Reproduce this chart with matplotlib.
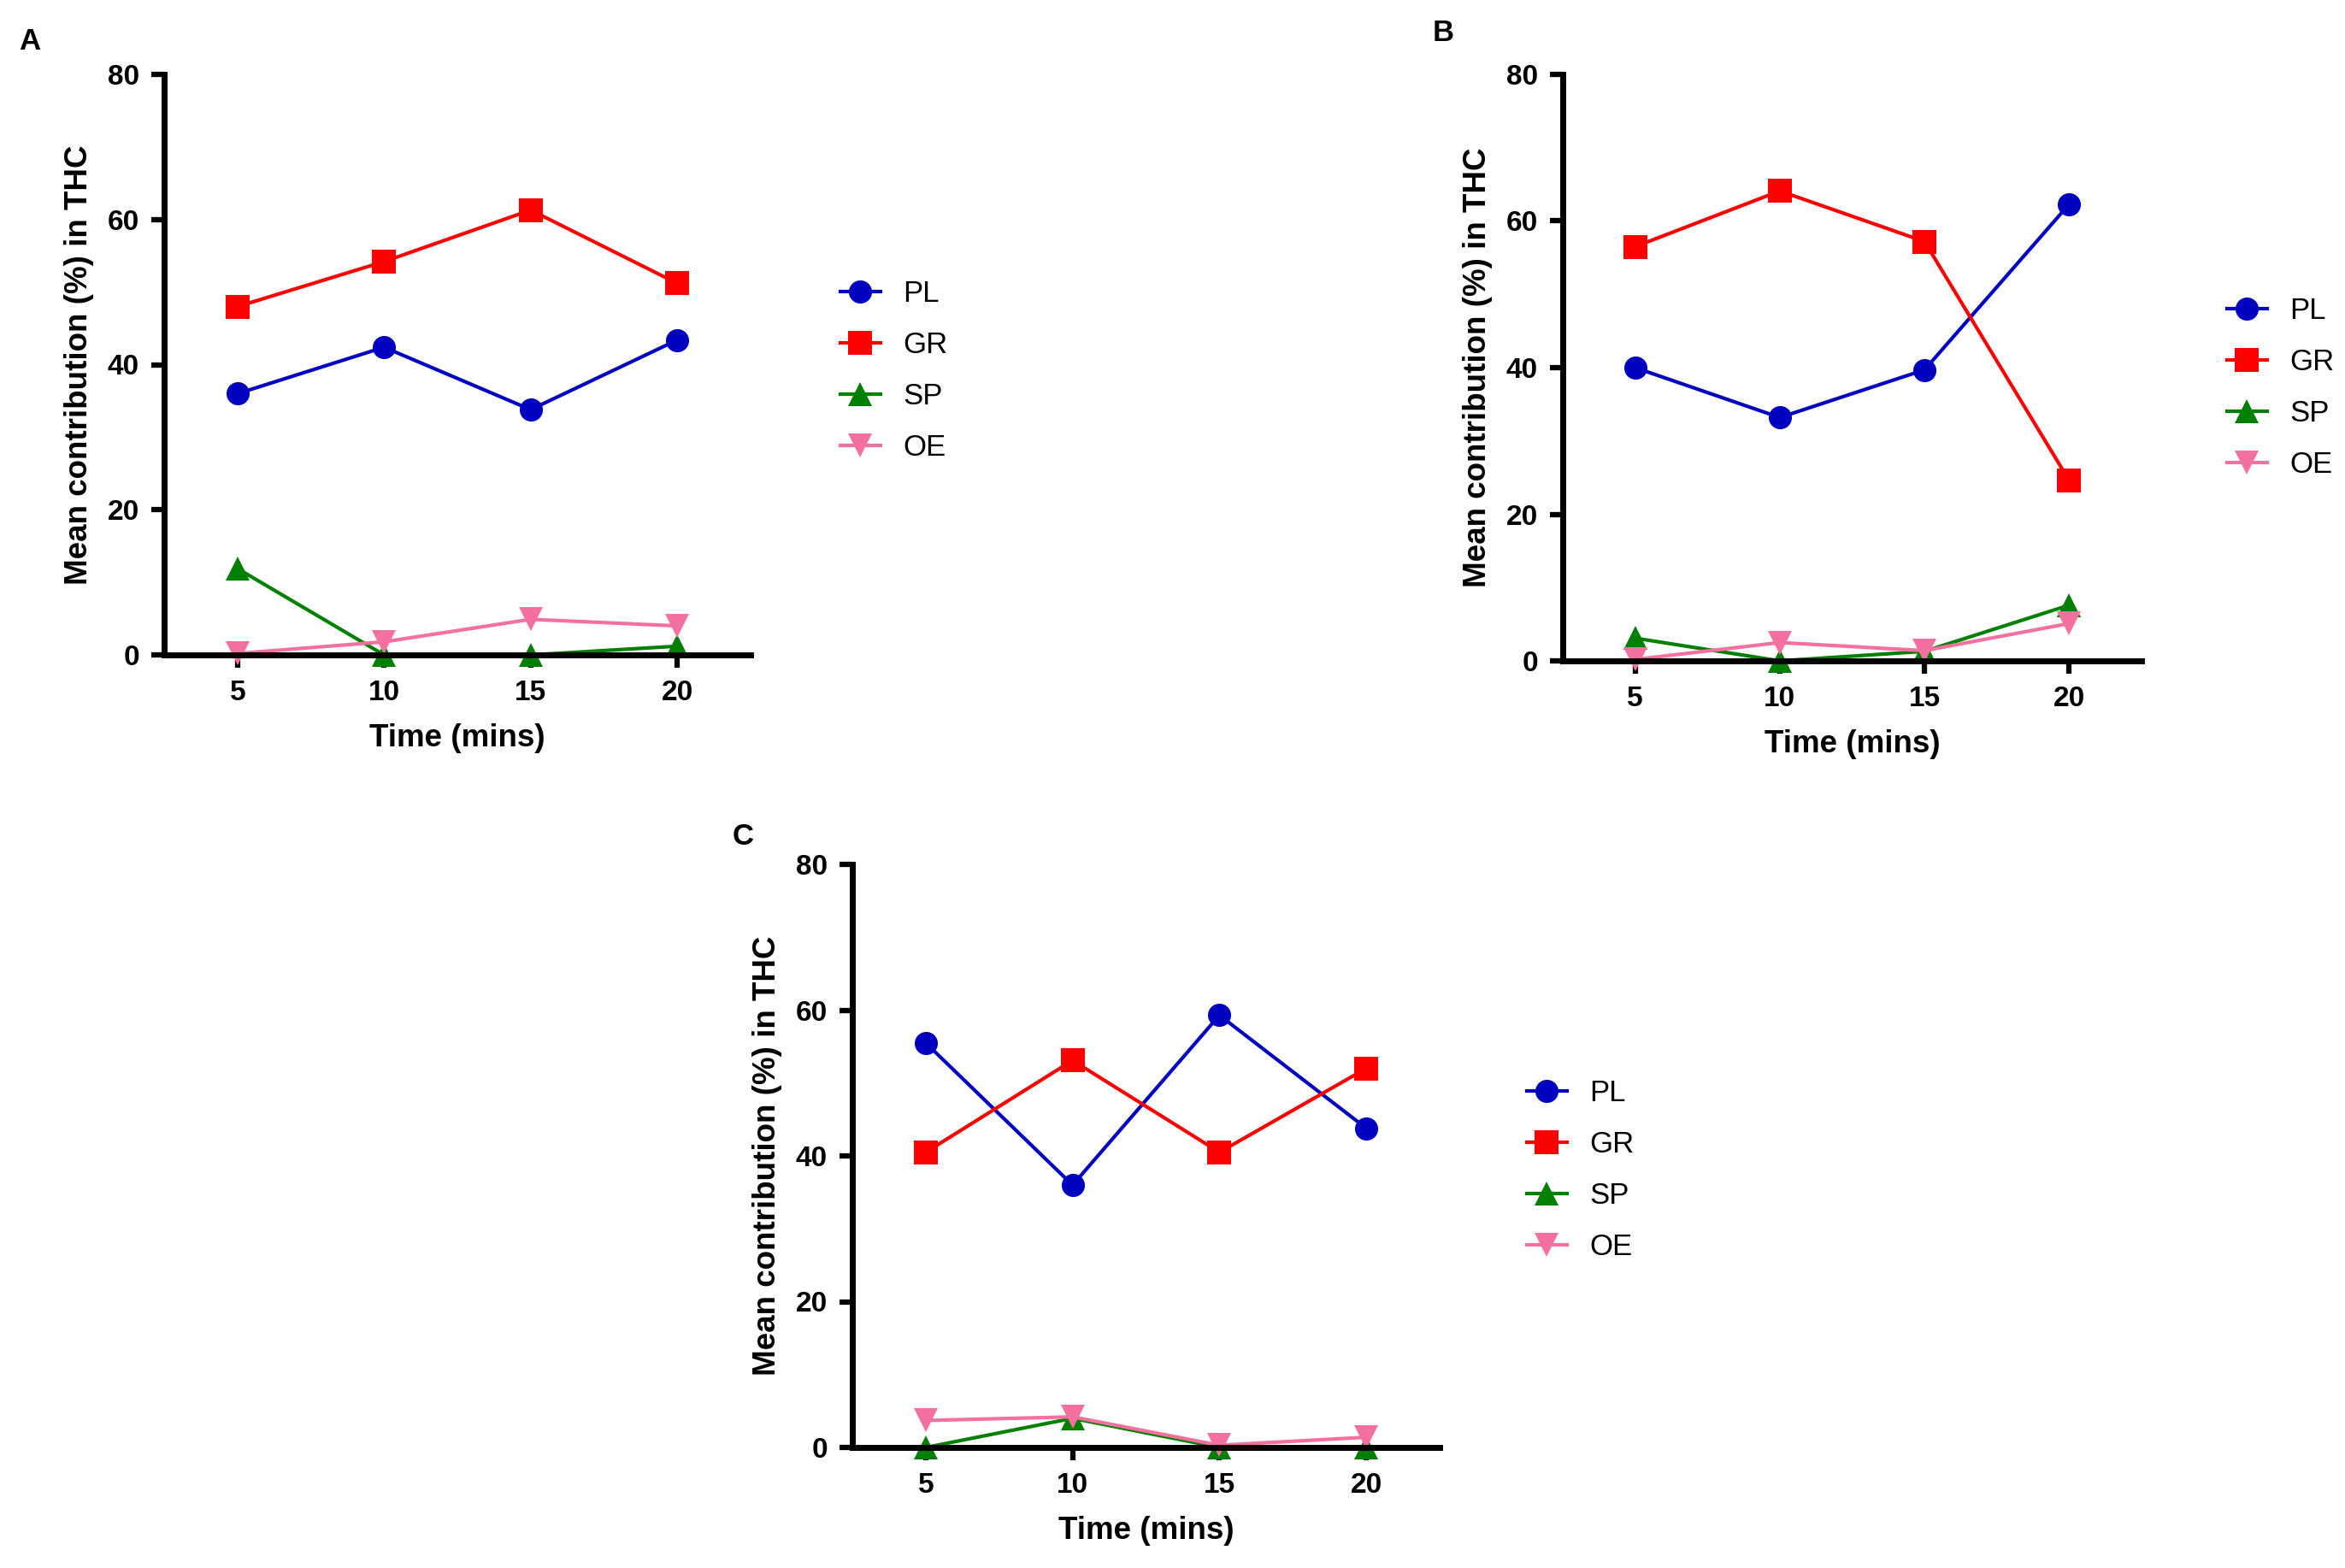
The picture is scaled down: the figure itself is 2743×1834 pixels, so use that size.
import matplotlib
matplotlib.use("Agg")
import matplotlib.pyplot as plt

plt.rcParams['font.family'] = ['Liberation Sans', 'DejaVu Sans']

times = [5, 10, 15, 20]
series_names = ["PL", "GR", "SP", "OE"]

# Panel A
a_pl = [36.0, 42.4, 33.8, 43.4]
a_gr = [48.0, 54.2, 61.3, 51.2]
a_sp = [11.9, 0.0, 0.0, 1.2]
a_oe = [0.2, 1.8, 4.9, 4.0]

# Panel B
b_pl = [40.0, 33.2, 39.7, 62.3]
b_gr = [56.5, 64.1, 57.2, 24.6]
b_sp = [3.1, 0.0, 1.3, 7.6]
b_oe = [0.2, 2.5, 1.4, 5.1]

# Panel C
c_pl = [55.5, 36.0, 59.3, 43.8]
c_gr = [40.5, 53.1, 40.5, 52.0]
c_sp = [0.0, 4.0, 0.0, 0.0]
c_oe = [3.7, 4.2, 0.3, 1.4]

y_ticks = [0, 20, 40, 60, 80]
x_label = "Time (mins)"
y_label = "Mean contribution (%) in THC"
panel_letters = ["A", "B", "C"]

colors = ["#0000C0", "#FF0000", "#008000", "#F4709F"]
markers = ["o", "s", "^", "v"]
msizes = [19.5, 19.5, 20.5, 20.5]

W, H = 2743, 1834
fig = plt.figure(figsize=(W / 100, H / 100), dpi=100)


def axes_box(l, t, r, b):
    return [l / W, 1 - b / H, (r - l) / W, (b - t) / H]


panels = [
    dict(box=(192, 87, 878, 766), data=[a_pl, a_gr, a_sp, a_oe],
         letter_xy=(35, 49), leg=(983, 327)),
    dict(box=(1828, 87, 2505, 773), data=[b_pl, b_gr, b_sp, b_oe],
         letter_xy=(1688, 38), leg=(2605, 347)),
    dict(box=(997, 1011, 1684, 1693), data=[c_pl, c_gr, c_sp, c_oe],
         letter_xy=(869, 979), leg=(1786, 1262)),
]

for letter, p in zip(panel_letters, panels):
    ax = fig.add_axes(axes_box(*p["box"]))
    handles = []
    for name, vals, c, m, ms in zip(series_names, p["data"], colors, markers, msizes):
        h, = ax.plot(times, vals, color=c, marker=m, markersize=ms, lw=3.0,
                     markeredgewidth=0, clip_on=False, label=name)
        handles.append(h)
    ax.set_xlim(2.5, 22.5)
    ax.set_ylim(0, 80)
    ax.set_xticks(times)
    ax.set_yticks(y_ticks)
    for s in ["top", "right"]:
        ax.spines[s].set_visible(False)
    for s in ["left", "bottom"]:
        ax.spines[s].set_linewidth(5.0)
        ax.spines[s].set_color("black")
        ax.spines[s].set_capstyle("projecting")
    ax.tick_params(axis="both", direction="out", length=11, width=4.5,
                   labelsize=24, pad=10)
    for lab in ax.get_xticklabels() + ax.get_yticklabels():
        lab.set_fontweight("bold")
    ax.set_xlabel(x_label, fontsize=26.5, fontweight="bold", labelpad=14)
    ax.set_ylabel(y_label, fontsize=26.5, fontweight="bold", labelpad=11)

    lx, ly = p["letter_xy"]
    fig.text(lx / W, 1 - ly / H, letter, fontsize=25, fontweight="bold",
             ha="center", va="center")

    gx, gy = p["leg"]
    ax.legend(handles=handles, loc="upper left",
              bbox_to_anchor=(gx / W, 1 - gy / H), bbox_transform=fig.transFigure,
              frameon=False, fontsize=25, handlelength=1.35, handletextpad=0.75,
              labelspacing=0.78, borderpad=0, borderaxespad=0, markerscale=1.0)

fig.savefig("out.png", dpi=100, facecolor="white")
